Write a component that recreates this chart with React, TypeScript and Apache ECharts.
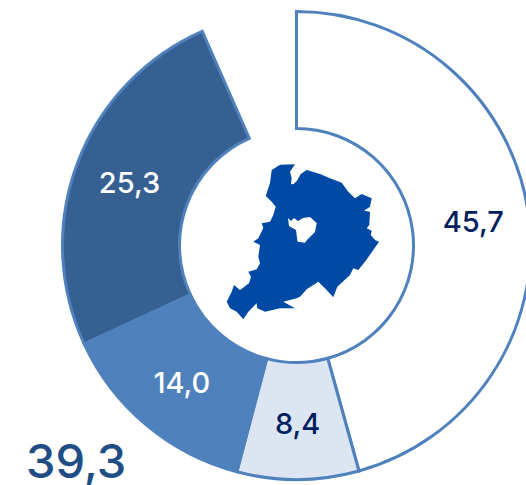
import React, { useEffect, useRef } from "react";
import * as echarts from "echarts";

const sliceNames = ["A", "B", "C", "D", "gap"];
const sliceValues = [45.7, 8.4, 14.0, 25.3, 6.6];
const sliceLabels = ["45,7", "8,4", "14,0", "25,3", ""];
const sliceFills = ["#FFFFFF", "#DCE6F2", "#4F81BD", "#366092", "transparent"];
const labelColors = ["#002060", "#002060", "#FFFFFF", "#FFFFFF", "transparent"];
const borderColors = ["#4F81BD", "#4F81BD", "#4F81BD", "#4F81BD", "transparent"];
const totalText = "39,3";

const regionPath =
  "M271.7 170L280 164.7L295 164.3L290 171.7L291.7 178.3L291 184L293.3 184.3L297 180.7L300.7 174L306.7 170L320 174L330 178.3L341.7 182.7L348.3 191.7L355 198.3L361.7 194L371.7 198.3L370 206.7L364 210.7L370 211.7L369.3 225L366.7 228.3L371.7 230.7L370.7 235L375 240L379 241.7L373.3 250L365 261.7L358.3 270L353.3 268.3L350 275L337.3 286.7L333.3 297.3L325 288.3L318.3 281.7L306.7 289.3L300 296.7L296.7 298.3L283.3 301.7L295 308.3L280 308.3L265 311.7L257.3 308.3L256.7 303.3L248.3 311.7L243.3 319.3L236.7 311.7L230 308.3L226.7 301.7L231.7 291.7L234 285L240 290L249 283.3L251 276.7L248.3 271.7L256.7 269.3L260 263.3L258.3 256.7L260 245L253.3 241.7L258.3 238.3L263.3 228L261.7 223.3L270 221.7L273.3 215L275.7 206.7L271.7 201.7L265.7 196L270 183Z" +
  "M288 218L289 226L296 230L297.5 241.7L305 242.7L307 240L315 232L316.7 223L310 217L303 218L298 221L294 218L291 221Z";

echarts.graphic.registerShape("region", echarts.graphic.extendPath(regionPath, {}));

export default function App() {
  const ref = useRef<HTMLDivElement>(null);
  useEffect(() => {
    document.body.style.margin = "0";
    const chart = echarts.init(ref.current!, null, { renderer: "svg" });
    chart.setOption({
      animation: false,
      backgroundColor: "#FFFFFF",
      series: [
        {
          type: "pie",
          center: [296.5, 245.5],
          radius: [117, 234],
          startAngle: 90,
          clockwise: true,
          sort: null,
          silent: true,
          minShowLabelAngle: 0,
          label: { show: true, position: "inside" },
          labelLine: { show: false },
          data: sliceValues.map((value, i) => ({
            name: sliceNames[i],
            value,
            itemStyle: {
              color: sliceFills[i],
              borderColor: borderColors[i],
              borderWidth: i === 4 ? 0 : 3,
              borderJoin: "miter",
            },
            label: {
              show: i !== 4,
              formatter: sliceLabels[i],
              color: labelColors[i],
              fontFamily: "Inter",
              fontSize: 29,
              fontWeight: 500,
              textBorderWidth: 0,
            },
          })),
        },
      ],
      graphic: [
        {
          type: "region",
          x: 0,
          y: 0,
          style: { fill: "#004AA5" },
        },
        {
          type: "text",
          x: 26,
          y: 460,
          style: {
            text: totalText,
            fill: "#1F4E85",
            font: '500 47px "Inter"',
            textVerticalAlign: "middle",
          },
        },
      ],
    });
    return () => chart.dispose();
  }, []);
  return <div ref={ref} style={{ width: 526, height: 485 }} />;
}
